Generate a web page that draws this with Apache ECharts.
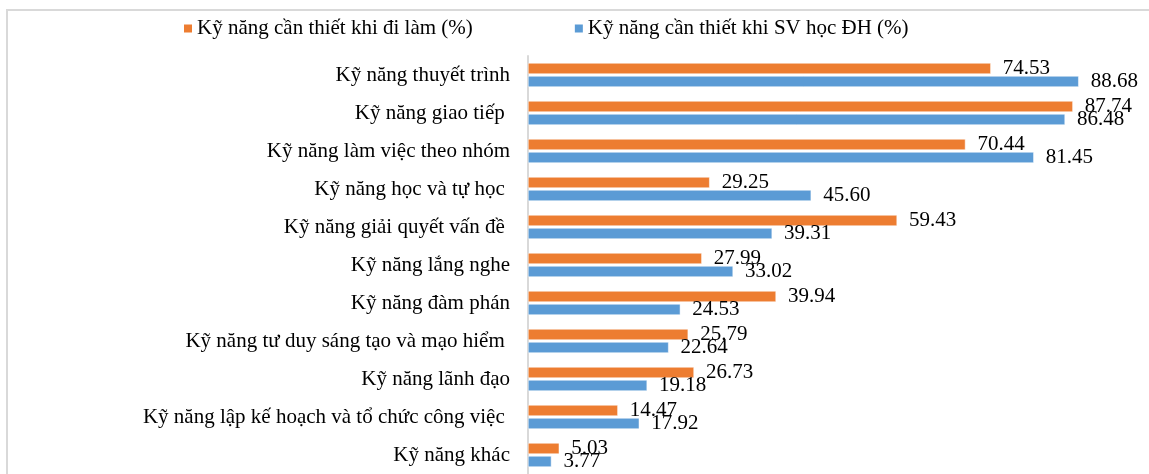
<!DOCTYPE html>
<html>
<head>
<meta charset="utf-8">
<title>Kỹ năng</title>
<script src="https://cdn.jsdelivr.net/npm/echarts@6/dist/echarts.min.js"></script>
<style>
  html, body { margin: 0; padding: 0; background: #fff; }
  #main { width: 1149px; height: 474px; }
</style>
</head>
<body>
<div id="main"></div>
<script>
// categories top to bottom
var skills = [
    'Kỹ năng thuyết trình',
    'Kỹ năng giao tiếp ',
    'Kỹ năng làm việc theo nhóm',
    'Kỹ năng học và tự học ',
    'Kỹ năng giải quyết vấn đề ',
    'Kỹ năng lắng nghe',
    'Kỹ năng đàm phán',
    'Kỹ năng tư duy sáng tạo và mạo hiểm ',
    'Kỹ năng lãnh đạo',
    'Kỹ năng lập kế hoạch và tổ chức công việc ',
    'Kỹ năng khác'
];
var diLam = [74.53, 87.74, 70.44, 29.25, 59.43, 27.99, 39.94, 25.79, 26.73, 14.47, 5.03];
var hocDH = [88.68, 86.48, 81.45, 45.60, 39.31, 33.02, 24.53, 22.64, 19.18, 17.92, 3.77];
var seriesNames = ['Kỹ năng cần thiết khi đi làm (%)', 'Kỹ năng cần thiết khi SV học ĐH (%)'];

var serif = "'Liberation Serif', 'Times New Roman', serif";
var dom = document.getElementById('main');
var myChart = echarts.init(dom);

var barLabel = {
    show: true,
    position: 'right',
    distance: 12,
    color: '#000',
    fontFamily: serif,
    fontSize: 21,
    formatter: function (p) { return p.value.toFixed(2); }
};

option = {
    animation: false,
    color: ['#ED7D31', '#5B9BD5'],
    graphic: [{
        type: 'rect',
        shape: { x: 7, y: 10, width: 1160, height: 480 },
        style: { fill: 'none', stroke: '#d9d9d9', lineWidth: 2 },
        silent: true
    }],
    legend: {
        data: seriesNames,
        left: 179,
        top: 13,
        itemWidth: 8,
        itemHeight: 8,
        itemGap: 102,
        icon: 'rect',
        itemStyle: { borderWidth: 0 },
        textStyle: { fontFamily: serif, fontSize: 21, color: '#000' }
    },
    grid: { left: 528, top: 56, width: 623, bottom: 0, containLabel: false },
    xAxis: {
        type: 'value',
        min: 0,
        max: 100,
        show: false
    },
    yAxis: {
        type: 'category',
        inverse: true,
        data: skills,
        axisLine: { lineStyle: { color: '#d9d9d9', width: 2 } },
        axisTick: { show: false },
        axisLabel: { margin: 18, color: '#000', fontFamily: serif, fontSize: 21 }
    },
    series: [
        {
            name: seriesNames[0],
            type: 'bar',
            data: diLam,
            barWidth: 11,
            barGap: '18%',
            itemStyle: { borderColor: '#fff', borderWidth: 0.5 },
            label: barLabel
        },
        {
            name: seriesNames[1],
            type: 'bar',
            data: hocDH,
            barWidth: 11,
            barGap: '18%',
            itemStyle: { borderColor: '#fff', borderWidth: 0.5 },
            label: barLabel
        }
    ]
};
if (option && typeof option === 'object') {
    myChart.setOption(option, true);
}
</script>
</body>
</html>
